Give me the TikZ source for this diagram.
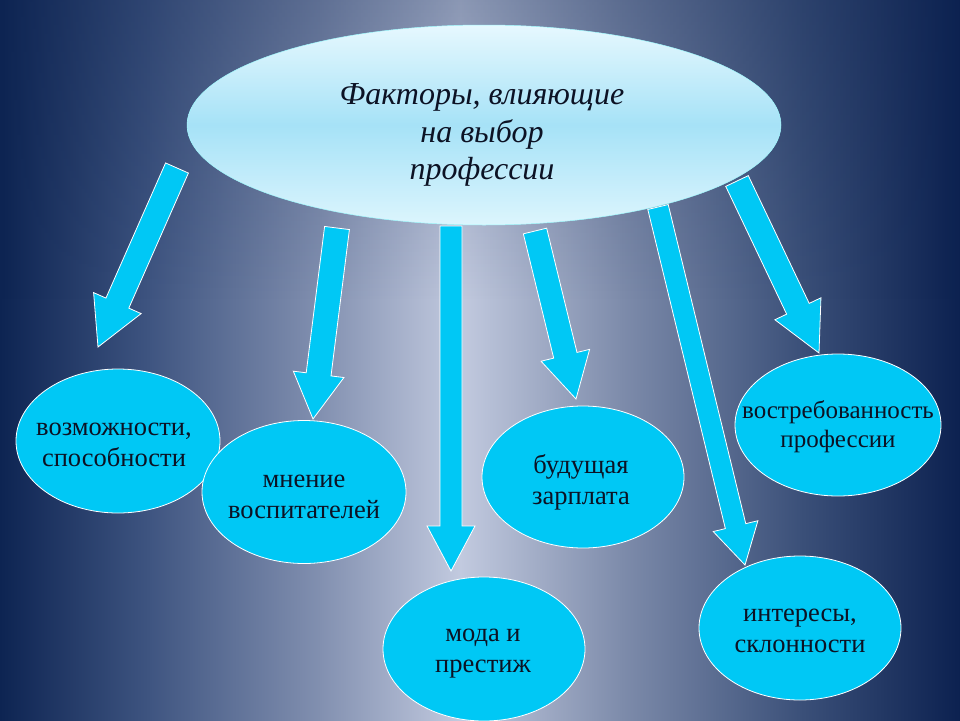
\documentclass[tikz,border=0pt]{standalone}
\usepackage{fontspec}
\setmainfont{Liberation Serif}
\usetikzlibrary{shapes.geometric,calc,fadings}
\definecolor{cy}{RGB}{0,200,245}
\definecolor{txt}{RGB}{12,18,36}
\definecolor{bgA}{HTML}{0D2452}
\definecolor{bgB}{HTML}{3F5581}
\definecolor{bgC}{HTML}{8290B0}
\definecolor{bgD}{HTML}{C2CADF}
\definecolor{bgE}{HTML}{7E8CAB}
\definecolor{bgF}{HTML}{3B5079}
\definecolor{bgG}{HTML}{0C2150}
\definecolor{topA}{HTML}{E6F8FE}
\definecolor{topB}{HTML}{A6E2F7}
\definecolor{topC}{HTML}{DCF5FD}
\tikzset{
  factor/.style={ellipse, fill=cy, draw=white, line width=0.8pt, inner sep=0pt},
  ftext/.style={align=center, text=txt, inner sep=0pt, font=\fontsize{26.5}{31}\selectfont},
  blockarrow/.style={fill=cy, draw=white, line width=0.8pt, line join=miter},
  bgseg/.style={line width=0pt, draw=none},
}
\newcommand\blockarr[5]{%
  \coordinate (B) at ($(#2)!#5!(#1)$);
  \draw[blockarrow] ($(#1)!#3!90:(#2)$) -- ($(B)!#3!90:(#2)$) -- ($(B)!#4!90:(#2)$)
    -- (#2) -- ($(B)!#4!-90:(#2)$) -- ($(B)!#3!-90:(#2)$) -- ($(#1)!#3!-90:(#2)$) -- cycle;
}
\begin{document}
\begin{tikzpicture}[x=1pt,y=-1pt]
\useasboundingbox (0,0) rectangle (960,720);
% background
\shade[bgseg, left color=bgA, right color=bgB] (0,0) rectangle (151,720);
\shade[bgseg, left color=bgB, right color=bgC] (150,0) rectangle (321,720);
\shade[bgseg, left color=bgC, right color=bgD] (320,0) rectangle (461,720);
\shade[bgseg, left color=bgD, right color=bgE] (460,0) rectangle (621,720);
\shade[bgseg, left color=bgE, right color=bgF] (620,0) rectangle (801,720);
\shade[bgseg, left color=bgF, right color=bgG] (800,0) rectangle (960,720);
\fill[bgA, path fading=south, opacity=0.3] (0,0) rectangle (960,300);

% arrow ends
\coordinate (t1) at (177,168); \coordinate (p1) at (98,347);
\coordinate (t2) at (337,228); \coordinate (p2) at (313,419);
\coordinate (t3) at (451,226); \coordinate (p3) at (451,571);
\coordinate (t4) at (535,231); \coordinate (p4) at (576,399);
\coordinate (t5) at (658,207); \coordinate (p5) at (745,565);
\coordinate (t6) at (737,181); \coordinate (p6) at (819,353);

\blockarr{t1}{p1}{12.5pt}{26pt}{48pt}
\blockarr{t2}{p2}{12.5pt}{25.5pt}{45pt}
\blockarr{t3}{p3}{11pt}{24pt}{45pt}
\blockarr{t4}{p4}{12pt}{25pt}{45pt}
\blockarr{t5}{p5}{10.5pt}{23pt}{40pt}
\blockarr{t6}{p6}{12.5pt}{25.5pt}{49pt}

% top ellipse
\node[ellipse, minimum width=594pt, minimum height=200pt, inner sep=0pt,
  top color=topA, bottom color=topC, middle color=topB, draw=topA!70!cyan, line width=0.5pt]
  (top) at (484,125) {};
\node[align=center, text=txt, inner sep=0pt, font=\itshape\fontsize{32}{37.5}\selectfont] (toptext) at (482,135)
  {Факторы, влияющие\\на выбор\\профессии};

% factor ellipses
\node[factor, minimum width=204pt, minimum height=144pt] (f1) at (118,441) {};
\node[factor, minimum width=204pt, minimum height=143pt] (f2) at (304,492) {};
\node[factor, minimum width=202pt, minimum height=144pt] (f3) at (484,649) {};
\node[factor, minimum width=202pt, minimum height=142pt] (f4) at (583,477) {};
\node[factor, minimum width=206pt, minimum height=142pt] (f5) at (838,425) {};
\node[factor, minimum width=202pt, minimum height=144pt] (f6) at (800,628) {};

\node[ftext] (l1) at (114,445) {возможности,\\способности};
\node[ftext] (l2) at (304,497) {мнение\\воспитателей};
\node[ftext] (l3) at (483,654) {мода и\\престиж};
\node[ftext] (l4) at (581,482) {будущая\\зарплата};
\node[ftext, font=\fontsize{25}{29}\selectfont] (l5) at (838,427) {востребованность\\профессии};
\node[ftext] (l6) at (800,631) {интересы,\\склонности};
\end{tikzpicture}
\end{document}
